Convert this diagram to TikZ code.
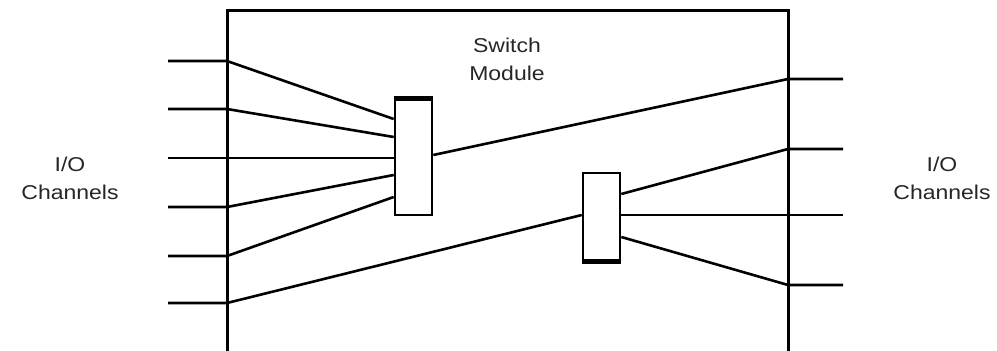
\documentclass[tikz,border=0pt]{standalone}
\usepackage{fontspec}
\setmainfont{Liberation Sans}
\begin{document}
\begin{tikzpicture}[x=1pt,y=-1pt,
  wire/.style={line width=2.6pt},
  frame/.style={line width=3pt},
  swbox/.style={draw,line width=2.6pt,inner sep=0pt,minimum width=37pt},
  thick edge/.style={line width=5pt},
  lbl/.style={font=\fontsize{20}{28}\selectfont,align=center,xscale=1.15,text=black!85}]
\useasboundingbox (0,0) rectangle (997,351);
% frame of the switch module (open at the bottom)
\draw[frame] (227,352) -- (227,10) -- (788,10) -- (788,352);
% switch boxes
\node[swbox,minimum height=115pt] (L) at (413.5,157.5) {};
\node[swbox,minimum height=87pt] (R) at (601.5,216.5) {};
\draw[thick edge] (L.north west) -- (L.north east);
\draw[thick edge] (R.south west) -- (R.south east);
% labels
\node[lbl] (sm) at (507,59) {Switch\\Module};
\node[lbl] (lio) at (70,178) {I/O\\Channels};
\node[lbl] (rio) at (942,178) {I/O\\Channels};
% left external ends and frame crossings
\foreach \i/\y in {1/61,2/109,3/158,4/207,5/256,6/303}{
  \coordinate (le\i) at (168,\y);
  \coordinate (lb\i) at (227,\y);
}
% right external ends and frame crossings
\foreach \i/\y in {1/79,2/149,3/215,4/285}{
  \coordinate (re\i) at (843,\y);
  \coordinate (rb\i) at (788,\y);
}
% attach points on the switch boxes
\coordinate (La1) at (L.west |- 0,119);
\coordinate (La2) at (L.west |- 0,137);
\coordinate (La3) at (L.west |- 0,158);
\coordinate (La4) at (L.west |- 0,175);
\coordinate (La5) at (L.west |- 0,197);
\coordinate (Lo) at (L.east |- 0,155);
\coordinate (Ri) at (R.west |- 0,215);
\coordinate (Ro1) at (R.east |- 0,194);
\coordinate (Ro2) at (R.east |- 0,215);
\coordinate (Ro3) at (R.east |- 0,237);
% input wires
\foreach \i in {1,...,5}{
  \draw[wire] (le\i) -- (lb\i) -- (La\i);
}
\draw[wire] (le6) -- (lb6) -- (Ri);
% outputs
\draw[wire] (Lo) -- (rb1) -- (re1);
\foreach \i/\j in {1/2,2/3,3/4}{
  \draw[wire] (Ro\i) -- (rb\j) -- (re\j);
}
\end{tikzpicture}
\end{document}
